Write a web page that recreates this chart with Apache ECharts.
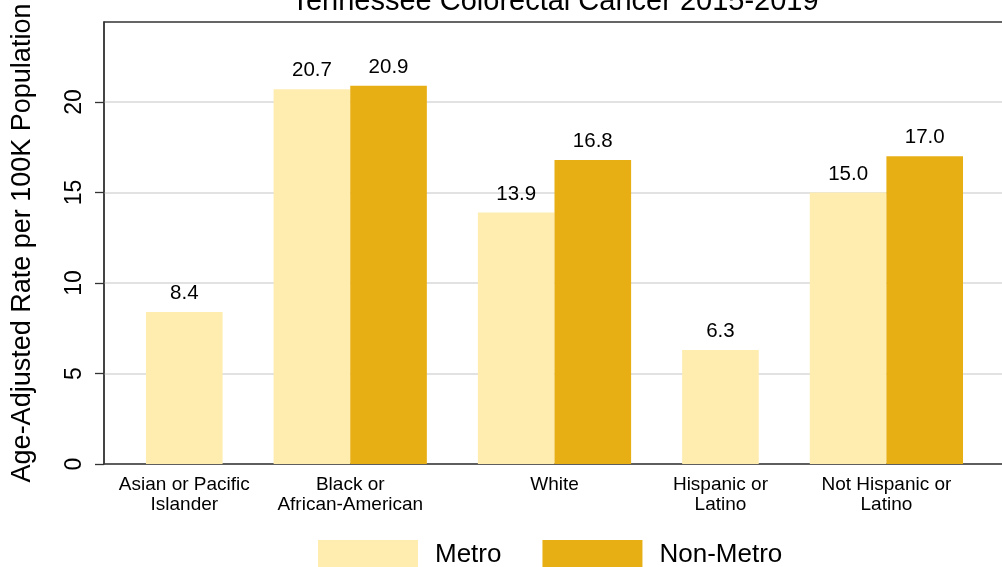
<!DOCTYPE html>
<html>
<head>
<meta charset="utf-8">
<script src="https://cdn.jsdelivr.net/npm/echarts@6/dist/echarts.min.js"></script>
<style>html,body{margin:0;padding:0;background:#fff;}#chart{width:1002px;height:567px;}</style>
</head>
<body>
<div id="chart"></div>
<script>
const categories = ['Asian or Pacific\nIslander', 'Black or\nAfrican-American', 'White', 'Hispanic or\nLatino', 'Not Hispanic or\nLatino'];
const seriesNames = ['Metro', 'Non-Metro'];
const metro = [8.4, 20.7, 13.9, 6.3, 15.0];
const nonMetro = [null, 20.9, 16.8, null, 17.0];
const yTicks = [0, 5, 10, 15, 20];
const title = 'Tennessee Colorectal Cancer 2015-2019';
const yName = 'Age-Adjusted Rate per 100K Population';

// layout: bars of width 1 laid out sequentially, missing bars dropped
const LEAD = 0.548, GAP = 0.666;
const all = [metro, nonMetro];
const pos = [[], []];
const centers = [];
let cur = LEAD;
categories.forEach((c, i) => {
  const cs = [];
  all.forEach((arr, s) => {
    if (arr[i] != null) { pos[s].push([cur + 0.5, arr[i]]); cs.push(cur + 0.5); cur += 1; }
  });
  centers.push(cs.reduce((a, b) => a + b, 0) / cs.length);
  cur += GAP;
});
const xMax = cur - GAP + LEAD;
const gridLeft = 104, gridWidth = 901;
const barW = gridWidth / xMax;

const font = '"Liberation Sans", Arial, Helvetica, sans-serif';
const chart = echarts.init(document.getElementById('chart'), null, {renderer: 'canvas'});
chart.setOption({
  animation: false,
  title: {text: title, left: 550, textAlign: 'center', top: -18,
    textStyle: {fontFamily: font, fontSize: 29, fontWeight: 'normal', color: '#000'}},
  legend: {
    data: seriesNames, left: 318, top: 540, padding: 0, icon: 'rect',
    itemWidth: 100, itemHeight: 30, itemGap: 41,
    textStyle: {fontFamily: font, fontSize: 26, color: '#000', padding: [0, 0, 0, 12]}
  },
  grid: {left: gridLeft, top: 22, width: gridWidth, height: 442, show: true,
    borderColor: '#333', borderWidth: 1.3, containLabel: false, outerBoundsMode: 'none'},
  xAxis: {
    type: 'value', min: 0, max: xMax,
    splitLine: {show: false}, axisTick: {show: false},
    axisLine: {lineStyle: {color: '#333', width: 1.5}},
    axisLabel: {
      customValues: centers, margin: 11, lineHeight: 20,
      fontFamily: font, fontSize: 19, color: '#000',
      formatter: (v) => { let best = 0; centers.forEach((c, i) => { if (Math.abs(c - v) < Math.abs(centers[best] - v)) best = i; }); return categories[best]; }
    }
  },
  yAxis: {
    type: 'value', min: 0, max: 24.42, interval: 5,
    name: yName, nameLocation: 'middle', nameGap: 68,
    nameTextStyle: {fontFamily: font, fontSize: 27, color: '#000'},
    axisLine: {show: true, lineStyle: {color: '#333', width: 1.5}},
    axisTick: {show: true, length: 9, customValues: yTicks, lineStyle: {color: '#333', width: 1.3}},
    axisLabel: {customValues: yTicks, rotate: 90, margin: 18, fontFamily: font, fontSize: 23, color: '#000'},
    splitLine: {show: true, lineStyle: {color: '#e2e2e2', width: 2}}
  },
  series: [
    {name: seriesNames[0], type: 'bar', data: pos[0], barWidth: barW, barGap: '-100%',
      itemStyle: {color: '#FEEDAF'},
      label: {show: true, position: 'top', distance: 8, fontFamily: font, fontSize: 20.5, color: '#000',
        formatter: (p) => p.value[1].toFixed(1)}},
    {name: seriesNames[1], type: 'bar', data: pos[1], barWidth: barW, barGap: '-100%',
      itemStyle: {color: '#E8AF14'},
      label: {show: true, position: 'top', distance: 8, fontFamily: font, fontSize: 20.5, color: '#000',
        formatter: (p) => p.value[1].toFixed(1)}}
  ]
});
</script>
</body>
</html>
